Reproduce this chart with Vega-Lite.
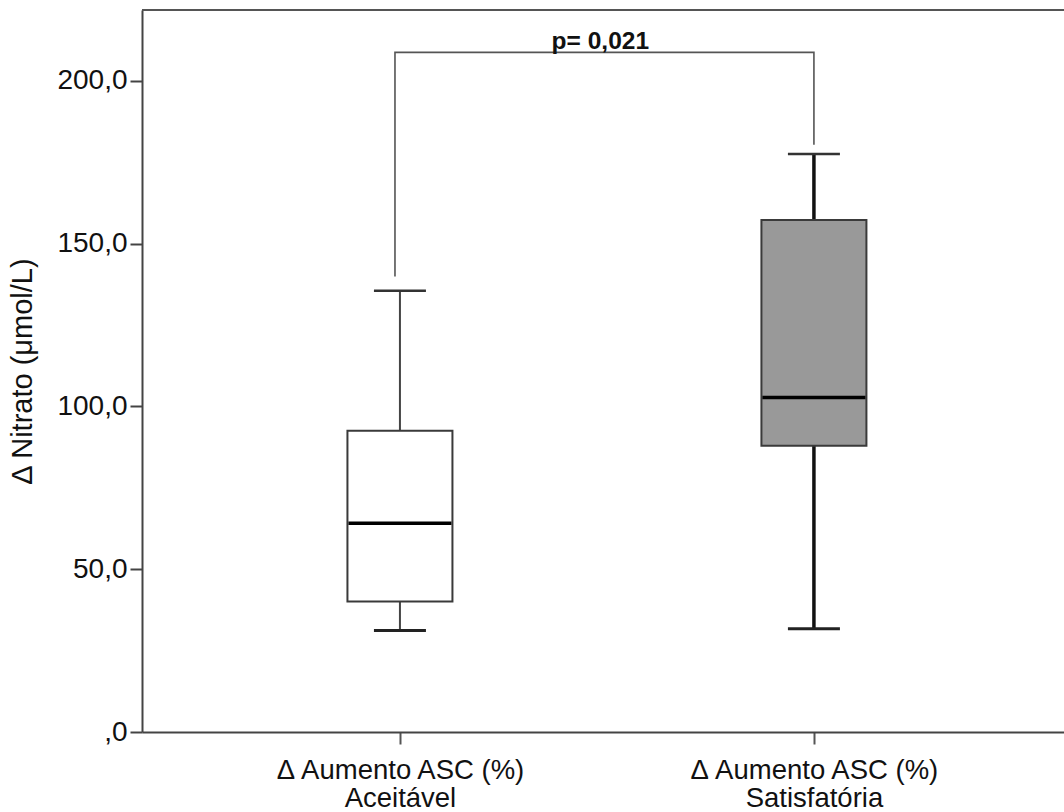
{
  "$schema": "https://vega.github.io/schema/vega-lite/v6.json",
  "width": 922,
  "height": 722,
  "autosize": {"type": "none"},
  "padding": {"left": 142, "top": 10, "right": 0, "bottom": 80},
  "background": "white",
  "config": {
    "view": {"stroke": null},
    "font": "Liberation Sans",
    "axis": {"grid": false, "labelFont": "Liberation Sans", "titleFont": "Liberation Sans", "labelColor": "#111", "titleColor": "#111", "labelLimit": 0}
  },
  "datasets": {
    "boxes": [
      {"group": "Aceitável", "pos": 1, "lo": 31.2, "q1": 40.1, "med": 64.1, "q3": 92.5, "hi": 135.5},
      {"group": "Satisfatória", "pos": 2, "lo": 31.7, "q1": 87.9, "med": 102.7, "q3": 157.2, "hi": 177.5}
    ],
    "bracket": [
      {"order": 1, "pos": 0.988, "val": 140.1},
      {"order": 2, "pos": 0.988, "val": 208.7},
      {"order": 3, "pos": 2.0, "val": 208.7},
      {"order": 4, "pos": 2.0, "val": 180.6}
    ],
    "annot": [
      {"label": "p= 0,021", "pos": 1.484, "val": 209.6}
    ]
  },
  "layer": [
    {
      "data": {"name": "boxes"},
      "mark": {"type": "rule", "color": "#555", "strokeWidth": 2},
      "encoding": {
        "y": {"datum": 221.7, "type": "quantitative", "scale": {"domain": [0, 221.7]}}
      }
    },
    {
      "data": {"name": "boxes"},
      "mark": {"type": "rule"},
      "encoding": {
        "x": {"field": "pos", "type": "quantitative", "scale": {"domain": [0.389, 2.592], "nice": false, "zero": false},
          "axis": {"values": [1, 2], "title": null, "labelExpr": "datum.value == 1 ? ['Δ Aumento ASC (%)', 'Aceitável'] : ['Δ Aumento ASC (%)', 'Satisfatória']",
            "labelFontSize": 27.5, "labelLineHeight": 28, "labelPadding": 12, "tickSize": 12, "tickWidth": 2, "tickColor": "#555",
            "domainColor": "#444", "domainWidth": 2, "labelAngle": 0, "labelLimit": 0}},
        "y": {"field": "q3", "type": "quantitative", "scale": {"domain": [0, 221.7], "nice": false},
          "axis": {"values": [0, 50, 100, 150, 200], "title": "Δ Nitrato (μmol/L)",
            "labelExpr": "datum.value == 0 ? ',0' : replace(format(datum.value, '.1f'), '.', ',')",
            "labelFontSize": 28, "titleFontSize": 29, "titleFontWeight": "normal", "labelPadding": 3, "tickSize": 12, "tickWidth": 2,
            "tickColor": "#444", "domainColor": "#444", "domainWidth": 2, "titlePadding": 19}},
        "y2": {"field": "hi"},
        "color": {"field": "group", "type": "nominal", "scale": {"domain": ["Aceitável", "Satisfatória"], "range": ["#444", "#111"]}, "legend": null},
        "strokeWidth": {"field": "group", "type": "nominal", "scale": {"domain": ["Aceitável", "Satisfatória"], "range": [2, 3.5]}, "legend": null}
      }
    },
    {
      "data": {"name": "boxes"},
      "mark": {"type": "rule"},
      "encoding": {
        "x": {"field": "pos", "type": "quantitative"},
        "y": {"field": "lo", "type": "quantitative"},
        "y2": {"field": "q1"},
        "color": {"field": "group", "type": "nominal", "legend": null},
        "strokeWidth": {"field": "group", "type": "nominal", "legend": null}
      }
    },
    {
      "data": {"name": "boxes"},
      "mark": {"type": "tick", "orient": "horizontal", "size": 52, "thickness": 2.5, "color": "#333", "opacity": 1},
      "encoding": {
        "x": {"field": "pos", "type": "quantitative"},
        "y": {"field": "hi", "type": "quantitative"}
      }
    },
    {
      "data": {"name": "boxes"},
      "mark": {"type": "tick", "orient": "horizontal", "size": 52, "thickness": 3, "color": "#222", "opacity": 1},
      "encoding": {
        "x": {"field": "pos", "type": "quantitative"},
        "y": {"field": "lo", "type": "quantitative"}
      }
    },
    {
      "data": {"name": "boxes"},
      "mark": {"type": "bar", "orient": "vertical", "width": 105, "stroke": "#3a3a3a", "strokeWidth": 2},
      "encoding": {
        "x": {"field": "pos", "type": "quantitative"},
        "y": {"field": "q1", "type": "quantitative"},
        "y2": {"field": "q3"},
        "fill": {"field": "group", "type": "nominal", "scale": {"domain": ["Aceitável", "Satisfatória"], "range": ["#ffffff", "#999999"]}, "legend": null}
      }
    },
    {
      "data": {"name": "boxes"},
      "mark": {"type": "tick", "orient": "horizontal", "size": 103, "thickness": 3.5, "color": "#000", "opacity": 1},
      "encoding": {
        "x": {"field": "pos", "type": "quantitative"},
        "y": {"field": "med", "type": "quantitative"}
      }
    },
    {
      "data": {"name": "bracket"},
      "mark": {"type": "line", "color": "#555", "strokeWidth": 1.6, "strokeCap": "square"},
      "encoding": {
        "x": {"field": "pos", "type": "quantitative"},
        "y": {"field": "val", "type": "quantitative"},
        "order": {"field": "order", "type": "quantitative"}
      }
    },
    {
      "data": {"name": "annot"},
      "mark": {"type": "text", "font": "Liberation Sans", "fontSize": 24.5, "fontWeight": "bold", "color": "#111", "baseline": "alphabetic", "align": "center"},
      "encoding": {
        "x": {"field": "pos", "type": "quantitative"},
        "y": {"field": "val", "type": "quantitative"},
        "text": {"field": "label"}
      }
    }
  ]
}
